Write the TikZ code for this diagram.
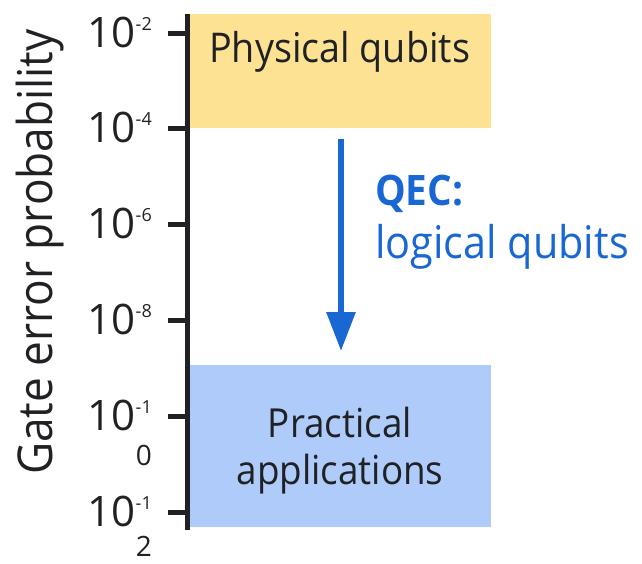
\documentclass[tikz,border=0pt]{standalone}
\usepackage{fontspec}
\setmainfont{Open Sans}
\newfontfamily\rob{Open Sans}[FakeStretch=0.92]
\usetikzlibrary{arrows.meta}
\definecolor{axisc}{HTML}{202124}
\definecolor{yell}{HTML}{FDE293}
\definecolor{blu}{HTML}{AECBFA}
\definecolor{arr}{HTML}{1967D2}
\begin{document}
\begin{tikzpicture}[x=1pt,y=-1pt,
  ticklab/.style={anchor=base east,font=\fontsize{42}{44}\selectfont,inner sep=0pt,text=axisc},
  wrapd/.style={anchor=base east,inner sep=0pt,text=axisc,font=\fontsize{28}{30}\selectfont},
  boxtext/.style={text=axisc,inner sep=0pt,align=center},
  tickline/.style={line width=5pt,draw=axisc}]
\useasboundingbox (0,0) rectangle (642,563);
% boxes
\fill[yell] (190,14) rectangle (491,128);
\fill[blu] (190,365) rectangle (491,527);
\node[boxtext,anchor=base west,font=\rob\fontsize{41}{46}\selectfont] (phys) at (209,62) {Physical qubits};
\node[boxtext,anchor=base,font=\rob\fontsize{40}{46}\selectfont] (prac) at (340,437) {Practical};
\node[boxtext,anchor=base,font=\rob\fontsize{40}{46}\selectfont] (appl) at (340,484) {applications};
% axis
\coordinate (atop) at (187,14);
\coordinate (abot) at (187,530);
\draw[line width=5pt,draw=axisc] (atop) -- (abot);
\foreach \y/\e [count=\i] in {33/-2,128/-4,224/-6,320/-8,416/-1,512/-1}{
  \coordinate (t\i) at (168,\y);
  \coordinate (u\i) at (187,\y);
  \draw[tickline] (t\i) -- (u\i);
  \node[ticklab] (l\i) at (152,\y+14) {10\raisebox{16.5pt}{\fontsize{18}{20}\selectfont\e}};
}
\node[wrapd] (z1) at (152,465) {0};
\node[wrapd] (z2) at (152,556) {2};
% y label
\node[rotate=90,anchor=base,font=\rob\fontsize{48}{50}\selectfont,text=axisc,inner sep=0pt] (ylab) at (52,252) {Gate error probability};
% arrow
\coordinate (as) at (341,139);
\coordinate (ae) at (341,351);
\draw[line width=6pt,draw=arr,-{Triangle[length=39pt,width=28pt]}] (as) -- (ae);
\node[anchor=base west,inner sep=0pt,font=\rob\fontsize{42}{44}\selectfont\bfseries,text=arr] (qec) at (375,205) {QEC:};
\node[anchor=base west,inner sep=0pt,font=\rob\fontsize{45}{48}\selectfont,text=arr] (logq) at (375,258) {logical qubits};
\end{tikzpicture}
\end{document}
